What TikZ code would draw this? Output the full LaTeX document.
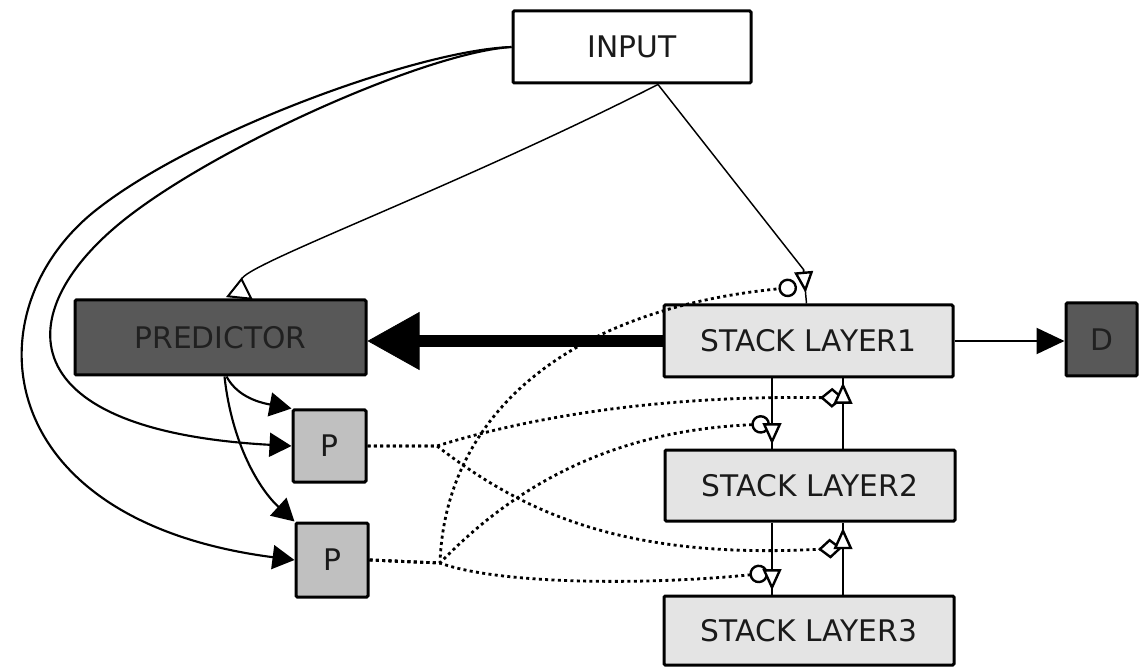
\documentclass[tikz,border=0pt]{standalone}
\usepackage{fontspec}
\setmainfont{DejaVu Sans}
\usetikzlibrary{arrows.meta,calc}
\definecolor{darkfill}{HTML}{585858}
\definecolor{pfill}{HTML}{C0C0C0}
\definecolor{slfill}{HTML}{E4E4E4}
\definecolor{txt}{HTML}{1A1A1A}
\definecolor{darktxt}{HTML}{202020}
\begin{document}
\begin{tikzpicture}[x=0.75pt,y=-0.75pt,
  box/.style={draw=black, line width=2.25pt, rounded corners=1pt, inner sep=0pt,
    font=\fontsize{22.3pt}{24pt}\selectfont, text=txt},
  conn/.style={draw=black, line width=1.6pt},
  thinconn/.style={draw=black, line width=1.1pt},
  dotline/.style={draw=black, line width=2.1pt, dash pattern=on 2.25pt off 2.5pt},
  ftip/.style={-{Triangle[length=16.5pt,width=18pt]}},
  otip/.style={-{Triangle[open,fill=white,length=16pt,width=14pt,line width=1.8pt]}},
  ctip/.style={-{Circle[open,fill=white,length=14pt,width=14pt,line width=1.8pt]}},
  dtip/.style={-{Diamond[open,fill=white,length=18pt,width=15pt,line width=1.8pt]}}]
\useasboundingbox (0,0) rectangle (1143,670);

% nodes
\node[box, fill=white, minimum width=178.5pt, minimum height=54pt] (input) at (632,47) {INPUT};
\node[box, fill=darkfill, text=darktxt, minimum width=218.25pt, minimum height=56.25pt] (predictor) at (220.5,337.5) {PREDICTOR};
\node[box, fill=slfill, minimum width=216.75pt, minimum height=54pt] (sl1) at (808.5,341) {STACK LAYER1};
\node[box, fill=slfill, minimum width=217.5pt, minimum height=53.25pt] (sl2) at (810,485.5) {STACK LAYER2};
\node[box, fill=slfill, minimum width=217.5pt, minimum height=51.75pt] (sl3) at (809,630.5) {STACK LAYER3};
\node[box, fill=darkfill, text=darktxt, minimum width=53.25pt, minimum height=54.75pt] (d) at (1101.5,339.5) {D};
\node[box, fill=pfill, minimum width=54.75pt, minimum height=54pt] (p1) at (329.5,446) {P};
\node[box, fill=pfill, minimum width=54pt, minimum height=55.5pt] (p2) at (332,560) {P};

% helper coordinates
\coordinate (xa) at (772,0);
\coordinate (xb) at (843,0);
\coordinate (j1) at (437,446);
\coordinate (j2) at (440,563);
\coordinate (e0) at (797,287);
\coordinate (e1) at (770,424);
\coordinate (e2) at (768,573);
\coordinate (f1) at (844,398);
\coordinate (f2) at (842,548);

% INPUT -> P nodes
\draw[conn, ftip] (input.west) .. controls (430,52) and (230,140) .. (133,213)
  .. controls (10,305) and (0,430) .. (p1.west);
\draw[conn, ftip] (input.west) .. controls (420,50) and (200,130) .. (100,207)
  .. controls (-30,305) and (-15,520) .. (p2.west);

% PREDICTOR -> P nodes
\draw[conn, ftip] ($(predictor.south)+(6,0)$) .. controls (238,398) and (262,403) .. (p1.north west);
\draw[conn, ftip] ($(predictor.south)+(4,0)$) .. controls (232,445) and (260,490) .. (p2.north west);

% INPUT -> PREDICTOR
\draw[thinconn, -{Triangle[open,reversed,fill=white,length=16pt,width=20pt,line width=1.5pt]}]
  ($(input.south)+(26,0)$) .. controls (450,190) and (243,265) .. ($(predictor.north)+(19,0)$);

% INPUT -> STACK LAYER1
\draw[thinconn] ($(input.south)+(26,0)$) -- ($(sl1.north)+(-5,-34)$) -- ($(sl1.north)+(-2,0)$);
\draw[thinconn, otip, shorten >=8pt] ($(sl1.north)+(-5,-34)$) -- ($(sl1.north)+(-2,0)$);

% stack layer links
\draw[conn] (sl1.south -| xa) -- (sl2.north -| xa);
\draw[conn] (sl2.south -| xa) -- (sl3.north -| xa);
\draw[conn] (sl2.north -| xb) -- (sl1.south -| xb);
\draw[conn] (sl3.north -| xb) -- (sl2.south -| xb);

% dotted links
\draw[dotline, dtip] (p1.east) -- (j1) .. controls (520,420) and (650,395) .. (f1);
\draw[dotline, dtip] (p1.east) -- (j1) .. controls (520,510) and (620,560) .. (f2);
\draw[dotline, ctip] (p2.east) -- (j2) .. controls (445,420) and (560,310) .. (e0);
\draw[dotline, ctip] (p2.east) -- (j2) .. controls (520,480) and (620,430) .. (e1);
\draw[dotline, ctip] (p2.east) -- (j2) .. controls (500,585) and (650,585) .. (e2);

% open triangle heads on the stack layer links
\draw[conn, otip, shorten >=3pt] (sl1.south -| xa) -- (sl2.north -| xa);
\draw[conn, otip, shorten >=3pt] (sl2.south -| xa) -- (sl3.north -| xa);
\draw[conn, otip, shorten >=3pt] (sl2.north -| xb) -- (sl1.south -| xb);
\draw[conn, otip, shorten >=4pt] (sl3.north -| xb) -- (sl2.south -| xb);

% STACK LAYER1 -> D
\draw[conn, -{Triangle[length=21pt,width=19.5pt]}] (sl1.east) -- (sl1.east -| d.west);

% STACK LAYER1 -> PREDICTOR (thick)
\draw[line width=9pt, -{Triangle[length=39pt,width=43.5pt,line width=0.5pt]}] (sl1.west) -- (sl1.west -| predictor.east);
\end{tikzpicture}
\end{document}
